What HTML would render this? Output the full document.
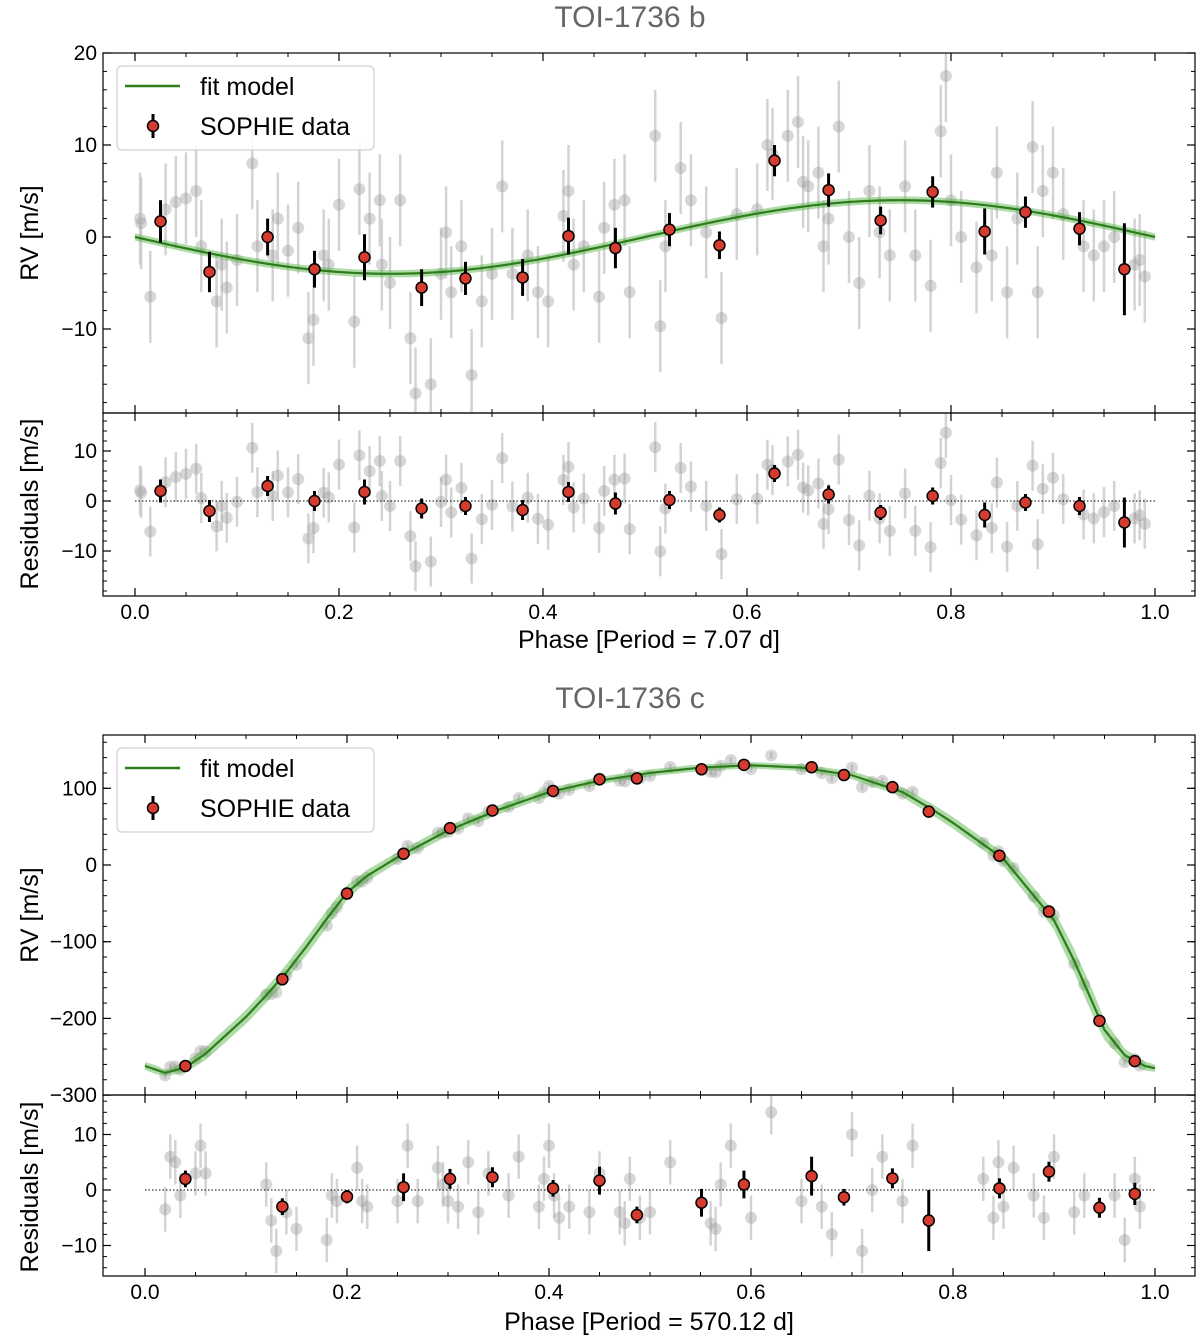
<!DOCTYPE html>
<html><head><meta charset="utf-8"><style>
html,body{margin:0;padding:0;background:#fff;}
svg text{font-family:"Liberation Sans","DejaVu Sans",sans-serif;}
</style></head><body>
<svg id="chart" width="1200" height="1338" xmlns="http://www.w3.org/2000/svg"></svg>
<script>
// ===== Panel b data =====
const bRedPhase=[0.025,0.073,0.130,0.176,0.225,0.281,0.324,0.380,0.425,0.471,0.524,0.573,0.627,0.680,0.731,0.782,0.833,0.873,0.926,0.970];
const bRedRV=[1.7,-3.8,0.0,-3.5,-2.2,-5.5,-4.5,-4.4,0.1,-1.2,0.8,-0.9,8.3,5.1,1.8,4.9,0.6,2.7,0.9,-3.5];
const bRedErr=[2.3,2.2,2.0,2.0,2.5,2.0,1.8,2.0,2.0,2.2,1.8,1.5,1.7,1.8,1.5,1.7,2.5,1.7,1.8,5.0];
const bRedRes=[2,-2,3,0,1.8,-1.5,-1,-1.8,1.8,-0.5,0.2,-2.8,5.5,1.3,-2.3,1,-2.8,-0.3,-1,-4.3];
const bGrayPhase=[0.005,0.006,0.015,0.03,0.04,0.05,0.06,0.065,0.08,0.085,0.09,0.1,0.115,0.12,0.135,0.14,0.15,0.16,0.17,0.175,0.185,0.19,0.2,0.215,0.22,0.23,0.24,0.242,0.25,0.26,0.27,0.275,0.29,0.3,0.305,0.31,0.32,0.33,0.34,0.35,0.36,0.37,0.385,0.395,0.405,0.42,0.425,0.43,0.44,0.455,0.46,0.47,0.485,0.48,0.51,0.515,0.52,0.535,0.545,0.56,0.575,0.59,0.61,0.62,0.625,0.64,0.65,0.655,0.66,0.67,0.675,0.68,0.69,0.7,0.71,0.72,0.73,0.74,0.755,0.765,0.78,0.79,0.795,0.8,0.81,0.825,0.84,0.845,0.855,0.865,0.88,0.885,0.89,0.9,0.91,0.93,0.94,0.95,0.96,0.98,0.985,0.99];
const bGrayRV=[2,1.5,-6.5,3,3.8,4.2,5,-1,-7,-3,-5.5,-2.5,8,-1,-2,2,-1.5,1,-11,-9,-2,-3,3.5,-9.2,5.2,2,4,-3,-5,4,-11,-17,-16,-4,0.5,-6,-1,-15,-7,-4,5.5,-4,-2,-6,-7,2.3,5,-3,-1,-6.5,1,3.5,-6,4,11,-9.7,-1,7.5,4,0.5,-8.8,2.5,3,10,9,11,12.5,6,5.5,7,-1,2,12,0,-5,5,0.5,-2,5.5,-2,-5.3,11.5,17.5,4,0,-3.3,-2,7,-6,2,9.8,-6,5,7,2.5,-1,-2,-1,0,-3,-2.5,-4.3];
const bK=4.0; // fit semi-amplitude [m/s]
// ===== Panel c data =====
const cModelPhase=[0,0.02,0.04,0.06,0.08,0.1,0.12,0.14,0.16,0.18,0.2,0.22,0.25,0.3,0.35,0.4,0.45,0.5,0.55,0.6,0.65,0.7,0.75,0.78,0.8,0.85,0.9,0.92,0.95,0.97,0.99,1.0];
const cModelRV=[-262,-271,-264,-246,-222,-198,-170,-140,-106,-70,-36,-14,10,45,72,95,110,120,127,130,127,117,95,72,55,8,-72,-125,-215,-248,-262,-265];
const cRedPhase=[0.04,0.136,0.2,0.256,0.302,0.344,0.404,0.45,0.487,0.551,0.593,0.66,0.692,0.74,0.776,0.846,0.895,0.945,0.98];
const cRedRes=[2,-3,-1.2,0.5,2,2.3,0.3,1.7,-4.5,-2.3,1,2.5,-1.3,2.1,-5.5,0.3,3.3,-3.2,-0.7];
const cRedErr=[1.5,1.5,1.2,2.5,1.8,1.8,1.5,2.5,1.5,2.5,2.5,3.5,1.5,1.8,5.5,1.8,1.8,1.8,2];
const cGrayPhase=[0.02,0.025,0.03,0.035,0.05,0.055,0.06,0.12,0.125,0.13,0.14,0.15,0.18,0.185,0.19,0.21,0.215,0.22,0.25,0.26,0.27,0.29,0.295,0.3,0.31,0.32,0.33,0.34,0.36,0.37,0.39,0.395,0.4,0.405,0.41,0.42,0.44,0.45,0.47,0.475,0.48,0.49,0.5,0.52,0.56,0.565,0.57,0.58,0.6,0.62,0.65,0.67,0.68,0.7,0.71,0.72,0.73,0.75,0.76,0.83,0.84,0.845,0.85,0.86,0.88,0.89,0.9,0.92,0.93,0.96,0.97,0.98,0.985];
const cGrayRes=[-3.5,6,5,-1,3,8,3,1,-5.5,-11,-4,-7,-9,-1,-2,4,-2,-3,-2,8,-2,4,1,-2,-3,5,-4,3,-1,6,-3,2,8,-1,-5,-3,-4,3,-4,-6,2,-5,-4,5,-6,-7,1,8,-5,14,-2,-3,-8,10,-11,0,6,-2,8,2,-5,5,-3,4,-1,-5,6,-4,-1,-1,-9,2,-3];

const svg=document.getElementById('chart');
const NS='http://www.w3.org/2000/svg';
function el(tag,attrs,parent){const e=document.createElementNS(NS,tag);for(const k in attrs)e.setAttribute(k,attrs[k]);(parent||svg).appendChild(e);return e;}
function lin(d0,d1,r0,r1){return v=>r0+(v-d0)*(r1-r0)/(d1-d0);}
function fmt(v,dec){let s=v.toFixed(dec);return s.replace('-','\u2212');}
function interp(xs,ys,x){for(let i=0;i<xs.length-1;i++){if(x<=xs[i+1]){const t=(x-xs[i])/(xs[i+1]-xs[i]);return ys[i]+t*(ys[i+1]-ys[i]);}}return ys[ys.length-1];}

function axesBox(name,x0,y0,x1,y1,xs,ys,xMaj,xMin,yMaj,yMin,yDec,showXLabels){
  const g=el('g',{});
  
  
  xMin.forEach(v=>{const x=xs(v);if(x<x0||x>x1)return;el('line',{x1:x,x2:x,y1:y1,y2:y1-4,stroke:'#000','stroke-width':1},g);el('line',{x1:x,x2:x,y1:y0,y2:y0+4,stroke:'#000','stroke-width':1},g);});
  xMaj.forEach(v=>{const x=xs(v);el('line',{x1:x,x2:x,y1:y1,y2:y1-8,stroke:'#000','stroke-width':1.2},g);el('line',{x1:x,x2:x,y1:y0,y2:y0+8,stroke:'#000','stroke-width':1.2},g);
    if(showXLabels){const t=el('text',{x:x,y:y1+23,'text-anchor':'middle','font-size':21},g);t.textContent=v.toFixed(1);}});
  yMin.forEach(v=>{const y=ys(v);if(y<y0||y>y1)return;el('line',{x1:x0,x2:x0+4,y1:y,y2:y,stroke:'#000','stroke-width':1},g);el('line',{x1:x1,x2:x1-4,y1:y,y2:y,stroke:'#000','stroke-width':1},g);});
  yMaj.forEach(v=>{const y=ys(v);el('line',{x1:x0,x2:x0+8,y1:y,y2:y,stroke:'#000','stroke-width':1.2},g);el('line',{x1:x1,x2:x1-8,y1:y,y2:y,stroke:'#000','stroke-width':1.2},g);
    const t=el('text',{x:x0-6,y:y+7,'text-anchor':'end','font-size':21},g);t.textContent=fmt(v,yDec);});
  el('rect',{x:x0,y:y0,width:x1-x0,height:y1-y0,fill:'none',stroke:'#000','stroke-width':1.2},g);
  return g;
}
function gray(g,x,y,yTop,yBot){el('line',{x1:x,x2:x,y1:yTop,y2:yBot,stroke:'#c8c8c8','stroke-width':2.5,'stroke-opacity':0.8},g);el('circle',{cx:x,cy:y,r:6,fill:'#9a9a9a','fill-opacity':0.4},g);}
function red(g,x,y,yTop,yBot){el('line',{x1:x,x2:x,y1:yTop,y2:yBot,stroke:'#000','stroke-width':3},g);el('circle',{cx:x,cy:y,r:5.5,fill:'#d63b2f',stroke:'#000','stroke-width':1.5},g);}
function range(a,b,s){const r=[];for(let v=a;v<=b+1e-9;v+=s)r.push(+v.toFixed(4));return r;}
function legend(y0){
  const g=el('g',{});
  
  
  el('rect',{x:117,y:y0,width:257,height:84,rx:5,fill:'#fff','fill-opacity':0.85,stroke:'#d0d0d0','stroke-width':1.2},g);
  el('line',{x1:125,x2:180,y1:y0+20,y2:y0+20,stroke:'#2e7d1c','stroke-width':2.5},g);
  let t=el('text',{x:200,y:y0+29,'font-size':25},g);t.textContent='fit model';
  el('line',{x1:153,x2:153,y1:y0+48,y2:y0+72,stroke:'#000','stroke-width':3},g);
  el('circle',{cx:153,cy:y0+60,r:5.5,fill:'#d63b2f',stroke:'#000','stroke-width':1.5},g);
  t=el('text',{x:200,y:y0+69,'font-size':25},g);t.textContent='SOPHIE data';
}
function text(name,x,y,s,size,opts){const t=el('text',Object.assign({x:x,y:y,'font-size':size,'text-anchor':'middle'},opts||{}));t.textContent=s;return t;}

// ===== Panel b =====
{
  const X0=103,X1=1195;
  const xs=lin(0,1,135,1155);
  const ys=lin(0,10,237,145); const yT=53,yB=413;
  const rs=lin(0,10,501,451); const rT=413,rB=596;
  const bModel=p=>-bK*Math.sin(2*Math.PI*p);
  text('title-b',630,27,'TOI-1736 b',30,{fill:'#666'});
  const clipA=el('clipPath',{id:'cb1'});el('rect',{x:X0,y:yT,width:X1-X0,height:yB-yT},clipA);
  const clipR=el('clipPath',{id:'cb2'});el('rect',{x:X0,y:rT,width:X1-X0,height:rB-rT},clipR);
  const g=el('g',{'clip-path':'url(#cb1)'});
  
  
  bGrayPhase.forEach((p,i)=>{const v=bGrayRV[i];gray(g,xs(p),ys(v),ys(v+5),ys(v-5));});
  let up='',dn='',ln='';
  for(let i=0;i<=200;i++){const p=i/200,v=bModel(p);up+=(i?'L':'M')+xs(p)+','+ys(v+0.4);ln+=(i?'L':'M')+xs(p)+','+ys(v);}
  for(let i=200;i>=0;i--){const p=i/200;dn+='L'+xs(p)+','+ys(bModel(p)-0.4);}
  el('path',{d:up+dn+'Z',fill:'#4caf3c','fill-opacity':0.45},g);
  el('path',{d:ln,fill:'none',stroke:'#2e7d1c','stroke-width':2.2},g);
  bRedPhase.forEach((p,i)=>{const v=bRedRV[i],e=bRedErr[i];red(g,xs(p),ys(v),ys(v+e),ys(v-e));});
  const gr=el('g',{'clip-path':'url(#cb2)'});
  
  
  bGrayPhase.forEach((p,i)=>{const v=bGrayRV[i]-bModel(p);gray(gr,xs(p),rs(v),rs(v+5),rs(v-5));});
  el('line',{x1:xs(0),x2:xs(1),y1:rs(0),y2:rs(0),stroke:'#000','stroke-width':1,'stroke-dasharray':'1.5,2'},gr);
  bRedPhase.forEach((p,i)=>{const v=bRedRes[i],e=bRedErr[i];red(gr,xs(p),rs(v),rs(v+e),rs(v-e));});
  axesBox('rv-axes-b',X0,yT,X1,yB,xs,ys,range(0,1,0.2),range(-0.05,1.05,0.05),[-10,0,10,20],range(-18,20,2),0,false);
  axesBox('residual-axes-b',X0,rT,X1,rB,xs,rs,range(0,1,0.2),range(-0.05,1.05,0.05),[-10,0,10],range(-18,16,2),0,true);
  legend(66);
  text('y-axis-title-b',0,0,'RV [m/s]',25,{transform:'translate(38,233) rotate(-90)'});
  text('residual-y-title-b',0,0,'Residuals [m/s]',25,{transform:'translate(38,504) rotate(-90)'});
  text('x-axis-title-b',649,648,'Phase [Period = 7.07 d]',25);
}
// ===== Panel c =====
{
  const X0=103,X1=1195;
  const xs=lin(0,1,145,1155);
  const ys=lin(0,100,865,788.3); const yT=735,yB=1095;
  const rs=lin(0,10,1190,1134.5); const rT=1095,rB=1276;
  const cm=p=>interp(cModelPhase,cModelRV,p);
  text('title-c',630,708,'TOI-1736 c',30,{fill:'#666'});
  const clipA=el('clipPath',{id:'cc1'});el('rect',{x:X0,y:yT,width:X1-X0,height:yB-yT},clipA);
  const clipR=el('clipPath',{id:'cc2'});el('rect',{x:X0,y:rT,width:X1-X0,height:rB-rT},clipR);
  const g=el('g',{'clip-path':'url(#cc1)'});
  
  
  cGrayPhase.forEach((p,i)=>{const v=cm(p)+cGrayRes[i];gray(g,xs(p),ys(v),ys(v+4),ys(v-4));});
  let up='',dn='',ln='';
  for(let i=0;i<=300;i++){const p=i/300,v=cm(p);const w=4+10*Math.abs(cm(Math.min(1,p+0.01))-cm(Math.max(0,p-0.01)))/50;up+=(i?'L':'M')+xs(p)+','+ys(v+w);ln+=(i?'L':'M')+xs(p)+','+ys(v);}
  for(let i=300;i>=0;i--){const p=i/300,v=cm(p);const w=4+10*Math.abs(cm(Math.min(1,p+0.01))-cm(Math.max(0,p-0.01)))/50;dn+='L'+xs(p)+','+ys(v-w);}
  el('path',{d:up+dn+'Z',fill:'#4caf3c','fill-opacity':0.45},g);
  el('path',{d:ln,fill:'none',stroke:'#2e7d1c','stroke-width':2.2},g);
  cRedPhase.forEach((p,i)=>{const v=cm(p)+cRedRes[i];red(g,xs(p),ys(v),ys(v+cRedErr[i]),ys(v-cRedErr[i]));});
  const gr=el('g',{'clip-path':'url(#cc2)'});
  
  
  cGrayPhase.forEach((p,i)=>{const v=cGrayRes[i];gray(gr,xs(p),rs(v),rs(v+4),rs(v-4));});
  el('line',{x1:xs(0),x2:xs(1),y1:rs(0),y2:rs(0),stroke:'#000','stroke-width':1,'stroke-dasharray':'1.5,2'},gr);
  cRedPhase.forEach((p,i)=>{const v=cRedRes[i],e=cRedErr[i];red(gr,xs(p),rs(v),rs(v+e),rs(v-e));});
  axesBox('rv-axes-c',X0,yT,X1,yB,xs,ys,range(0,1,0.2),range(-0.05,1.05,0.05),[-300,-200,-100,0,100],range(-300,160,20),0,false);
  axesBox('residual-axes-c',X0,rT,X1,rB,xs,rs,range(0,1,0.2),range(-0.05,1.05,0.05),[-10,0,10],range(-16,16,2),0,true);
  legend(748);
  text('y-axis-title-c',0,0,'RV [m/s]',25,{transform:'translate(38,915) rotate(-90)'});
  text('residual-y-title-c',0,0,'Residuals [m/s]',25,{transform:'translate(38,1187) rotate(-90)'});
  text('x-axis-title-c',649,1330,'Phase [Period = 570.12 d]',25);
}
</script>
</body></html>
